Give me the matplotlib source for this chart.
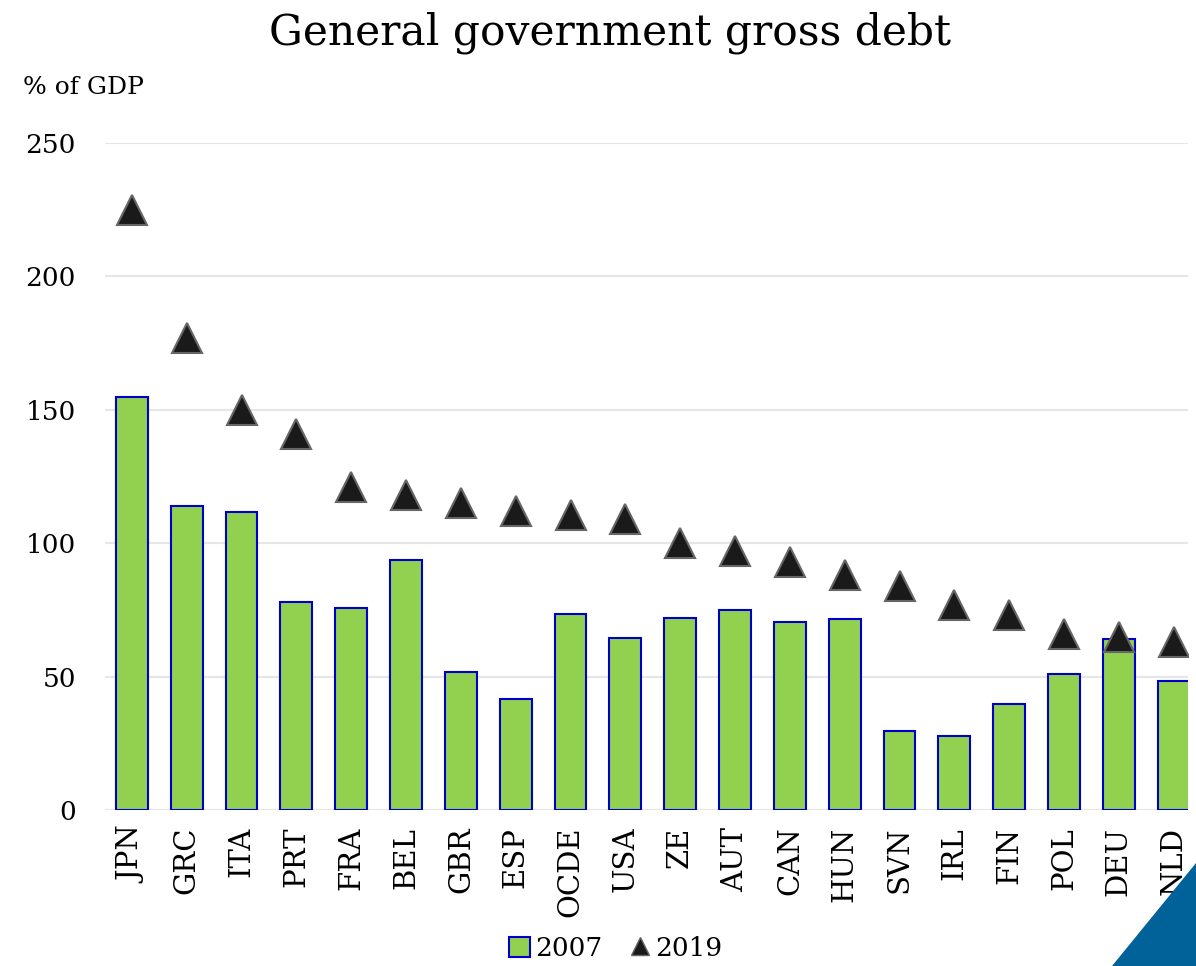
import matplotlib.pyplot as plt
from matplotlib.patches import Polygon
from matplotlib.lines import Line2D
from matplotlib.patches import Patch

countries = ["JPN", "GRC", "ITA", "PRT", "FRA", "BEL", "GBR", "ESP", "OCDE", "USA",
             "ZE", "AUT", "CAN", "HUN", "SVN", "IRL", "FIN", "POL", "DEU", "NLD"]
debt_2007 = [154.8, 114.0, 111.7, 78.0, 75.7, 93.7, 51.7, 41.6, 73.5, 64.5,
             72.0, 75.0, 70.5, 71.6, 29.6, 27.7, 39.7, 51.0, 64.0, 48.4]
debt_2019 = [225.0, 177.0, 150.0, 141.0, 121.0, 118.0, 115.0, 112.0, 110.5, 109.0,
             100.0, 97.0, 93.0, 88.0, 84.0, 77.0, 73.0, 66.0, 65.0, 63.0]
yticks = [0, 50, 100, 150, 200, 250]

plt.rcParams['font.family'] = ['DejaVu Serif']

fig = plt.figure(figsize=(11.96, 9.66), dpi=100)
ax = fig.add_axes([0.0878, 0.1615, 0.9055, 0.6905])

x = list(range(len(countries)))
ax.bar(x, debt_2007, width=0.58, color="#92D050", edgecolor="#0000CC",
       linewidth=1.5, zorder=2)
ax.plot(x, debt_2019, linestyle="none", marker="^", markersize=22,
        markerfacecolor="#1a1a1a", markeredgecolor="#666666",
        markeredgewidth=1.5, zorder=3)

ax.set_xlim(-0.49, 19.26)
ax.set_ylim(0, 250)
ax.set_yticks(yticks)
ax.set_yticklabels([str(v) for v in yticks], fontsize=19)
ax.set_xticks(x)
ax.set_xticklabels(countries, rotation=90, fontsize=21)
ax.tick_params(length=0)
ax.tick_params(axis="y", pad=21)
ax.tick_params(axis="x", pad=12)
ax.grid(axis="y", color="#e6e6e6", linewidth=1.5, zorder=0)
for s in ax.spines.values():
    s.set_visible(False)

fig.text(0.51, 0.966, "General government gross debt", ha="center", va="center",
         fontsize=30.5)
fig.text(0.019, 0.909, "% of GDP", ha="left", va="center", fontsize=18)

handles = [Patch(facecolor="#92D050", edgecolor="#0000CC", linewidth=1.5),
           Line2D([], [], linestyle="none", marker="^", markersize=13,
                  markerfacecolor="#1a1a1a", markeredgecolor="#666666")]
fig.legend(handles, ["2007", "2019"], loc="center", bbox_to_anchor=(0.515, 0.018),
           ncol=2, frameon=False, fontsize=19, handlelength=0.8, handletextpad=0.2,
           columnspacing=1.0, handleheight=0.8)

# corner decoration
fig.patches.append(Polygon([(0.93, 0.0), (1.0, 0.0), (1.0, 0.107)], closed=True,
                           transform=fig.transFigure, facecolor="#006298",
                           edgecolor="none"))

fig.savefig("out.png", dpi=100)
